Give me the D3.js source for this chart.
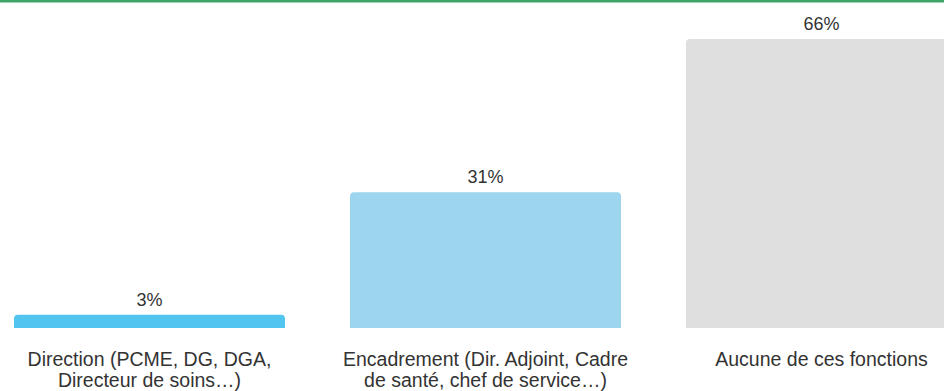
<!DOCTYPE html>
<html>
<head>
<meta charset="utf-8">
<script src="https://cdn.jsdelivr.net/npm/d3@7"></script>
<style>
  html, body { margin: 0; padding: 0; background: #ffffff; overflow: hidden; }
  svg { display: block; }
  text { font-family: "Liberation Sans", Arial, Helvetica, sans-serif; fill: #333333; }
</style>
</head>
<body>
<svg id="chart" width="944" height="391"></svg>
<script>
// Répartition par fonction occupée
const categories = ["direction", "encadrement", "aucune"];
const categoryLines = [
  ["Direction (PCME, DG, DGA,", "Directeur de soins…)"],
  ["Encadrement (Dir. Adjoint, Cadre", "de santé, chef de service…)"],
  ["Aucune de ces fonctions"]
];
const values = [3, 31, 66];
const valueLabels = ["3%", "31%", "66%"];
const barColors = ["#52c4f0", "#9dd4ee", "#dfdfdf"];

const svg = d3.select("#chart");
const W = 944, H = 391;

// Bandeau vert en haut
svg.append("rect").attr("x", 0).attr("y", 0).attr("width", W).attr("height", 2.5)
  .attr("fill", "#3fa66a");

const x = d3.scaleBand()
  .domain(categories)
  .range([14, 957])
  .paddingInner(0.1935)
  .paddingOuter(0);

const y = d3.scaleLinear()
  .domain([0, 66])
  .range([328, 39]);

// Barre à coins supérieurs arrondis
function topRounded(x0, y0, w, h, r) {
  r = Math.min(r, h, w / 2);
  return `M${x0},${y0 + h}V${y0 + r}Q${x0},${y0} ${x0 + r},${y0}` +
         `H${x0 + w - r}Q${x0 + w},${y0} ${x0 + w},${y0 + r}V${y0 + h}Z`;
}

const g = svg.append("g");

g.selectAll("path.bar")
  .data(categories)
  .join("path")
  .attr("class", "bar")
  .attr("fill", (d, i) => barColors[i])
  .attr("d", (d, i) => topRounded(x(d), y(values[i]), x.bandwidth(), y(0) - y(values[i]), 4));

// Valeurs au-dessus des barres
g.selectAll("text.value")
  .data(categories)
  .join("text")
  .attr("class", "value")
  .attr("x", d => x(d) + x.bandwidth() / 2)
  .attr("y", (d, i) => y(values[i]) - 9)
  .attr("text-anchor", "middle")
  .attr("font-size", 18)
  .text((d, i) => valueLabels[i]);

// Libellés des catégories
const labels = g.selectAll("text.cat")
  .data(categories)
  .join("text")
  .attr("class", "cat")
  .attr("text-anchor", "middle")
  .attr("font-size", 19.5)
  .attr("x", d => x(d) + x.bandwidth() / 2)
  .attr("y", 366);

labels.selectAll("tspan")
  .data((d, i) => categoryLines[i].map(t => ({ t, cx: x(d) + x.bandwidth() / 2 })))
  .join("tspan")
  .attr("x", d => d.cx)
  .attr("dy", (d, j) => j === 0 ? 0 : 21)
  .text(d => d.t);
</script>
</body>
</html>
